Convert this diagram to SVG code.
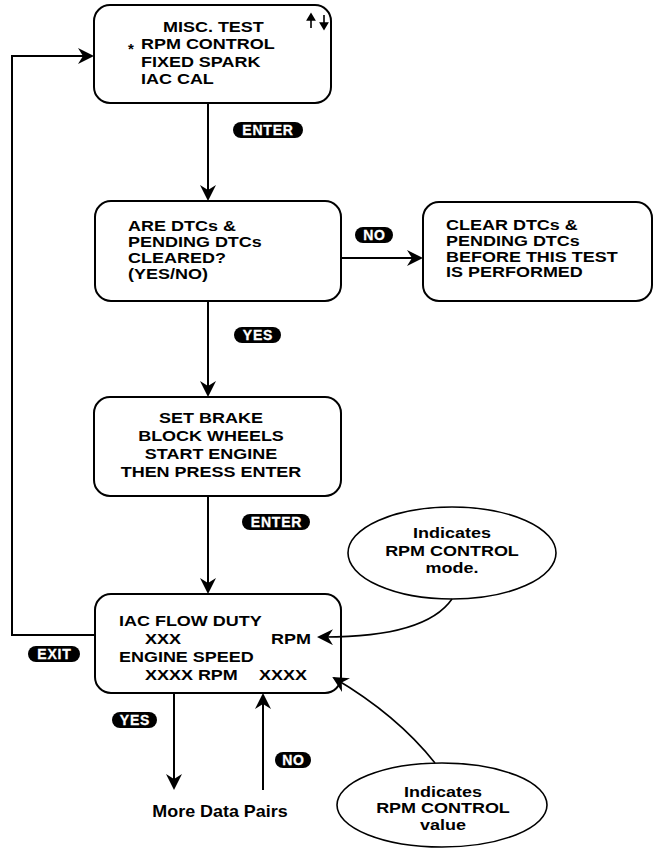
<svg xmlns="http://www.w3.org/2000/svg" width="657" height="857" viewBox="0 0 657 857">
<style>
.box{fill:#fff;stroke:#000;stroke-width:2}
.ell{fill:#fff;stroke:#000;stroke-width:1.6}
.ln{fill:none;stroke:#000;stroke-width:2}
.cv{fill:none;stroke:#000;stroke-width:1.6}
.t{font-family:"Liberation Sans",Arial,sans-serif;font-weight:bold;font-size:15.5px;fill:#000}
.s{font-size:14.5px}
.c{text-anchor:middle}
.pill{fill:#000}
.pt{font-family:"Liberation Sans",Arial,sans-serif;font-weight:bold;font-size:14px;letter-spacing:0.8px;fill:#fff;stroke:#fff;stroke-width:0.3;text-anchor:middle}
</style>
<defs>
<marker id="ah" viewBox="0 0 16 16" refX="14" refY="8" markerWidth="16" markerHeight="16" markerUnits="userSpaceOnUse" orient="auto">
<path d="M0,0 L16,8 L0,16 L5,8 Z" fill="#000"/>
</marker>
</defs>

<g id="node-misc-test">
<rect class="box" x="94" y="5" width="237" height="98" rx="16"/>
<g transform="translate(141 0) scale(1.16 1)">
<text class="t" x="19" y="32">MISC. TEST</text>
<text class="t" x="0" y="49.5">RPM CONTROL</text>
<text class="t" x="0" y="67">FIXED SPARK</text>
<text class="t" x="0" y="84.5">IAC CAL</text>
</g>
<text class="t" x="128" y="54" style="font-size:15px">*</text>
<path d="M311,28 V15 M307.5,20 L311,14 L314.5,20 Z M324,15 V28 M320.5,23 L324,29 L327.5,23 Z" fill="#000" stroke="#000" stroke-width="1.6"/>
</g>

<g id="node-dtcs-cleared">
<rect class="box" x="95" y="201" width="246" height="100" rx="16"/>
<g transform="translate(128 0) scale(1.24 1)">
<text class="t s" x="0" y="231.5">ARE DTCs &amp;</text>
<text class="t s" x="0" y="247.5">PENDING DTCs</text>
<text class="t s" x="0" y="263.5">CLEARED?</text>
<text class="t s" x="0" y="279">(YES/NO)</text>
</g>
</g>

<g id="node-clear-dtcs">
<rect class="box" x="423" y="202" width="229" height="99" rx="16"/>
<g transform="translate(446 0) scale(1.24 1)">
<text class="t s" x="0" y="230.5">CLEAR DTCs &amp;</text>
<text class="t s" x="0" y="246.5">PENDING DTCs</text>
<text class="t s" x="0" y="262">BEFORE THIS TEST</text>
<text class="t s" x="0" y="277.5">IS PERFORMED</text>
</g>
</g>

<g id="node-set-brake">
<rect class="box" x="94" y="397" width="247" height="99" rx="16"/>
<g transform="translate(211 0) scale(1.16 1)">
<text class="t c" x="0" y="423">SET BRAKE</text>
<text class="t c" x="0" y="441">BLOCK WHEELS</text>
<text class="t c" x="0" y="459">START ENGINE</text>
<text class="t c" x="0" y="477">THEN PRESS ENTER</text>
</g>
</g>

<g id="node-iac-flow">
<rect class="box" x="95" y="594" width="246" height="99" rx="16"/>
<g transform="translate(119 0) scale(1.16 1)">
<text class="t" x="0" y="626">IAC FLOW DUTY</text>
<text class="t" x="22.4" y="644">XXX</text>
<text class="t" x="131" y="644">RPM</text>
<text class="t" x="0" y="662">ENGINE SPEED</text>
<text class="t" x="22.4" y="680">XXXX RPM</text>
<text class="t" x="120.7" y="680">XXXX</text>
</g>
</g>

<g id="node-more-data">
<g transform="translate(220 0) scale(1.12 1)">
<text class="t c" x="0" y="817" style="font-size:16px">More Data Pairs</text>
</g>
</g>

<g id="node-callout-mode">
<ellipse class="ell" cx="452" cy="553" rx="104" ry="46"/>
<g transform="translate(452 0) scale(1.16 1)">
<text class="t c" x="0" y="538">Indicates</text>
<text class="t c" x="0" y="556">RPM CONTROL</text>
<text class="t c" x="0" y="573">mode.</text>
</g>
</g>

<g id="node-callout-value">
<ellipse class="ell" cx="442" cy="805" rx="105" ry="42"/>
<g transform="translate(443 0) scale(1.16 1)">
<text class="t c" x="0" y="797">Indicates</text>
<text class="t c" x="0" y="813">RPM CONTROL</text>
<text class="t c" x="0" y="830">value</text>
</g>
</g>

<g id="connectors">
<line class="ln" x1="208" y1="103" x2="208" y2="199" marker-end="url(#ah)"/>
<line class="ln" x1="341" y1="258" x2="421" y2="258" marker-end="url(#ah)"/>
<line class="ln" x1="208" y1="301" x2="208" y2="395" marker-end="url(#ah)"/>
<line class="ln" x1="208" y1="496" x2="208" y2="592" marker-end="url(#ah)"/>
<polyline class="ln" points="95,635 12,635 12,56 92,56" marker-end="url(#ah)"/>
<line class="ln" x1="174" y1="693" x2="174" y2="788" marker-end="url(#ah)"/>
<line class="ln" x1="263" y1="790" x2="263" y2="695" marker-end="url(#ah)"/>
<path class="cv" d="M452,599 Q425,638 319,637" marker-end="url(#ah)"/>
<path class="cv" d="M435,763 Q397,715 334,678" marker-end="url(#ah)"/>
<g id="label-enter1"><rect class="pill" x="233" y="122" width="70" height="16" rx="8"/><text class="pt" x="268" y="135">ENTER</text></g>
<g id="label-no1"><rect class="pill" x="355" y="227" width="38" height="16" rx="8"/><text class="pt" x="374.5" y="240">NO</text></g>
<g id="label-yes1"><rect class="pill" x="234" y="327" width="47" height="16" rx="8"/><text class="pt" x="258" y="340">YES</text></g>
<g id="label-enter2"><rect class="pill" x="242" y="514" width="68" height="16" rx="8"/><text class="pt" x="276.5" y="527">ENTER</text></g>
<g id="label-exit"><rect class="pill" x="28" y="646" width="52" height="16" rx="8"/><text class="pt" x="54.5" y="659">EXIT</text></g>
<g id="label-yes2"><rect class="pill" x="112" y="712" width="45" height="16" rx="8"/><text class="pt" x="135" y="725">YES</text></g>
<g id="label-no2"><rect class="pill" x="275" y="752" width="36" height="16" rx="8"/><text class="pt" x="293.5" y="765">NO</text></g>
</g>
</svg>
